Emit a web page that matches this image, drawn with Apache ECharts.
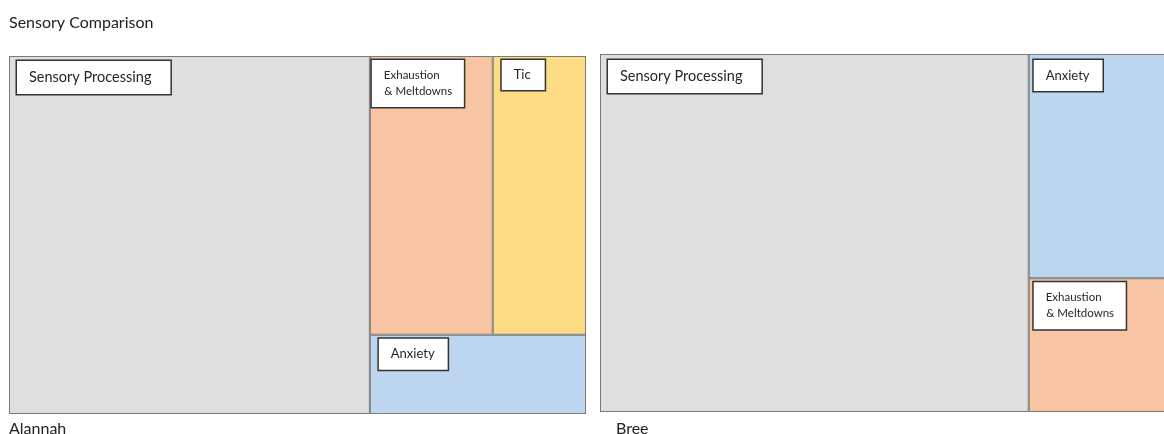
<!DOCTYPE html>
<html lang="en">

<head>
    <meta charset="UTF-8" />
    <title>Sensory Comparison</title>
    <style>
        html, body { margin: 0; padding: 0; background: #fff; }
        #chart { width: 1164px; height: 434px; }
    </style>
</head>

<body>
    <div id="chart"></div>
    <script src="https://cdn.jsdelivr.net/npm/echarts@6/dist/echarts.min.js"></script>
    <script>
        // data (share of each box, in %)
        const alannahNames = ['Sensory Processing', 'Exhaustion & Meltdowns', 'Tic', 'Anxiety'];
        const alannahValues = [62.6, 16.6, 12.6, 8.3];
        const breeNames = ['Sensory Processing', 'Anxiety', 'Exhaustion & Meltdowns'];
        const breeValues = [74.3, 16.1, 9.6];

        const colors = {
            'Sensory Processing': '#dfdfdf',
            'Exhaustion & Meltdowns': '#f8c5a4',
            'Tic': '#fedc86',
            'Anxiety': '#bdd6ef'
        };

        const font = 'Lato, "Liberation Sans", sans-serif';

        // white label box (rich token so the box keeps its own size)
        const boxBase = {
            fontFamily: font,
            color: '#262626',
            backgroundColor: '#fff',
            borderColor: '#333',
            borderWidth: 1.5,
            align: 'left',
            verticalAlign: 'top'
        };
        const labelLook = {
            'Sensory Processing': { fontSize: 14.5, lineHeight: 16, padding: [9, 19, 9, 12] },
            'Tic': { fontSize: 13, lineHeight: 16, padding: [8, 14, 9, 12] },
            'Anxiety': { fontSize: 13, lineHeight: 16, padding: [9, 13, 9, 12] }
        };
        const leftOffsets = { 'Sensory Processing': [6, 3], 'Exhaustion & Meltdowns': [0, 2], 'Tic': [7, 2], 'Anxiety': [7, 2] };
        const rightOffsets = { 'Sensory Processing': [6, 4], 'Anxiety': [3, 4], 'Exhaustion & Meltdowns': [3, 2] };

        function makeLabel (name, offset) {
            if (name === 'Exhaustion & Meltdowns') {
                // two lines: first token draws the whole box, second line is drawn over it
                return {
                    position: offset,
                    formatter: '{a|Exhaustion}\n{b|& Meltdowns}',
                    rich: {
                        a: Object.assign({}, boxBase, { fontSize: 11.5, lineHeight: 16, width: 64, height: 16, padding: [7, 16, 24, 12] }),
                        b: { fontFamily: font, color: '#262626', fontSize: 11.5, lineHeight: 16, height: 16, padding: [7, 0, 0, 12.5], align: 'left', verticalAlign: 'top' }
                    }
                }
            }
            return {
                position: offset,
                formatter: '{box|' + name + '}',
                rich: { box: Object.assign({}, boxBase, labelLook[name]) }
            }
        }

        function buildData (names, values, offsets) {
            return names.map((n, i) => ({
                name: n,
                value: values[i],
                itemStyle: { color: colors[n] },
                label: makeLabel(n, offsets[n])
            }))
        }

        function treemap (left, top, data) {
            return {
                type: 'treemap',
                left: left,
                top: top,
                width: 577,
                height: 358,
                roam: false,
                nodeClick: false,
                breadcrumb: { show: false },
                animation: false,
                emphasis: { disabled: true },
                label: {
                    show: true,
                    padding: 1,
                    overflow: 'none'
                },
                levels: [
                    { itemStyle: { borderWidth: 0, gapWidth: 0 } },
                    { itemStyle: { borderWidth: 1, borderColor: '#7a7a7a', gapWidth: 0 } }
                ],
                data: data
            }
        }

        const titleStyle = { fontFamily: font, fontSize: 16, fontWeight: 'normal', color: '#222' };

        const chart = echarts.init(document.getElementById('chart'));
        chart.setOption({
            animation: false,
            title: [
                { text: 'Sensory Comparison', left: 4, top: 10, textStyle: titleStyle },
                { text: 'Alannah', left: 4, top: 416, textStyle: titleStyle },
                { text: 'Bree', left: 611, top: 416, textStyle: titleStyle }
            ],
            series: [
                treemap(9, 56, buildData(alannahNames, alannahValues, leftOffsets)),
                treemap(600, 54, buildData(breeNames, breeValues, rightOffsets))
            ]
        });
    </script>
</body>

</html>
